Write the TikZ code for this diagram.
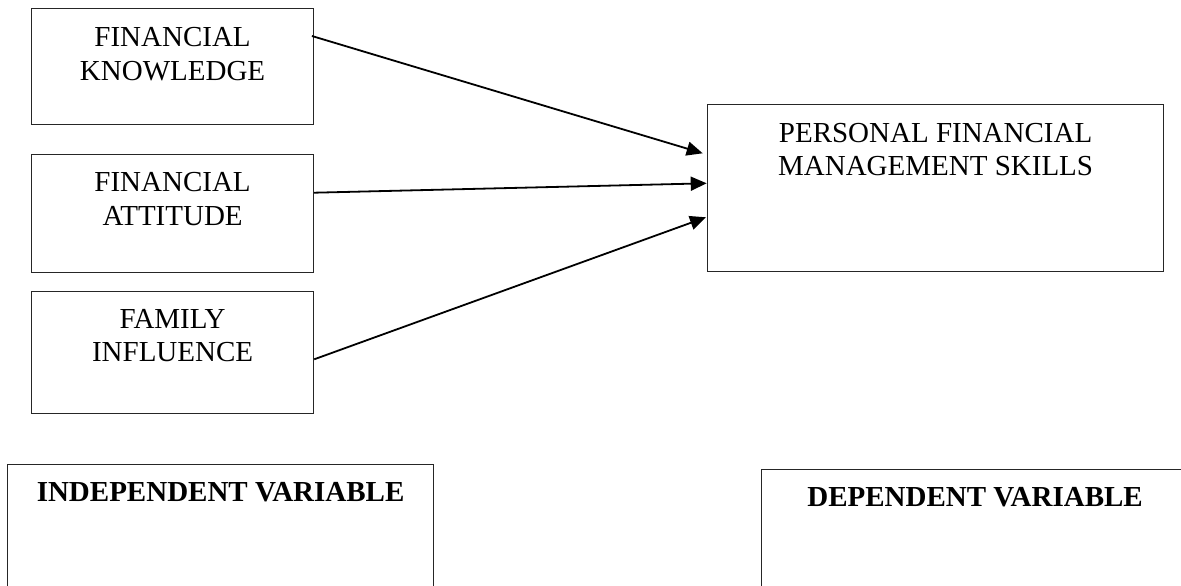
\documentclass[tikz,border=0pt]{standalone}
\usepackage{fontspec}
\setmainfont{Liberation Serif}
\usetikzlibrary{arrows.meta}

\begin{document}
\begin{tikzpicture}[x=1pt, y=-1pt,
  box/.style={draw=black!85, line width=1.2pt, rectangle, inner sep=0pt, anchor=north west},
  boxtext/.style={font=\fontsize{29}{33.5}\selectfont, align=center, inner sep=0pt, anchor=base},
  headtext/.style={font=\fontsize{29}{33.5}\selectfont\bfseries, inner sep=0pt, anchor=base},
  link/.style={line width=1.8pt, -{Triangle[length=16pt, width=14pt]}}
]
\useasboundingbox (0,0) rectangle (1181,586);
\clip (0,0) rectangle (1181,586);

% independent variables (text anchored on the baseline of its last line)
\node[box, minimum width=282pt, minimum height=116pt] (know) at (31,8) {};
\node[boxtext] (knowtxt) at ([yshift=-72.2pt]know.north) {FINANCIAL\\KNOWLEDGE};

\node[box, minimum width=282pt, minimum height=118pt] (att) at (31,154) {};
\node[boxtext] (atttxt) at ([yshift=-71.2pt]att.north) {FINANCIAL\\ATTITUDE};

\node[box, minimum width=282pt, minimum height=122pt] (fam) at (31,291) {};
\node[boxtext] (famtxt) at ([yshift=-70.5pt]fam.north) {FAMILY\\INFLUENCE};

% dependent variable
\node[box, minimum width=456pt, minimum height=167pt] (pfm) at (707,104) {};
\node[boxtext] (pfmtxt) at ([yshift=-71.5pt]pfm.north) {PERSONAL FINANCIAL\\MANAGEMENT SKILLS};

% captions
\node[box, minimum width=426pt, minimum height=160pt] (indep) at (7,464) {};
\node[headtext] (indeptxt) at ([yshift=-37.7pt]indep.north) {INDEPENDENT VARIABLE};

\node[box, minimum width=427pt, minimum height=160pt] (dep) at (761,469) {};
\node[headtext] (deptxt) at ([yshift=-37.7pt]dep.north) {DEPENDENT VARIABLE};

% connector end points
\coordinate (know-out) at ([xshift=-2.3pt, yshift=-28pt]know.north east);
\coordinate (att-out)  at ([yshift=-38.7pt]att.north east);
\coordinate (fam-out)  at ([yshift=-68.3pt]fam.north east);
\coordinate (pfm-in1)  at ([xshift=-4.3pt, yshift=-49.3pt]pfm.north west);
\coordinate (pfm-in2)  at ([xshift=-0.3pt, yshift=-79.3pt]pfm.north west);
\coordinate (pfm-in3)  at ([xshift=-1pt, yshift=-113.3pt]pfm.north west);

\draw[link] (know-out) -- (pfm-in1);
\draw[link] (att-out) -- (pfm-in2);
\draw[link] (fam-out) -- (pfm-in3);
\end{tikzpicture}
\end{document}
